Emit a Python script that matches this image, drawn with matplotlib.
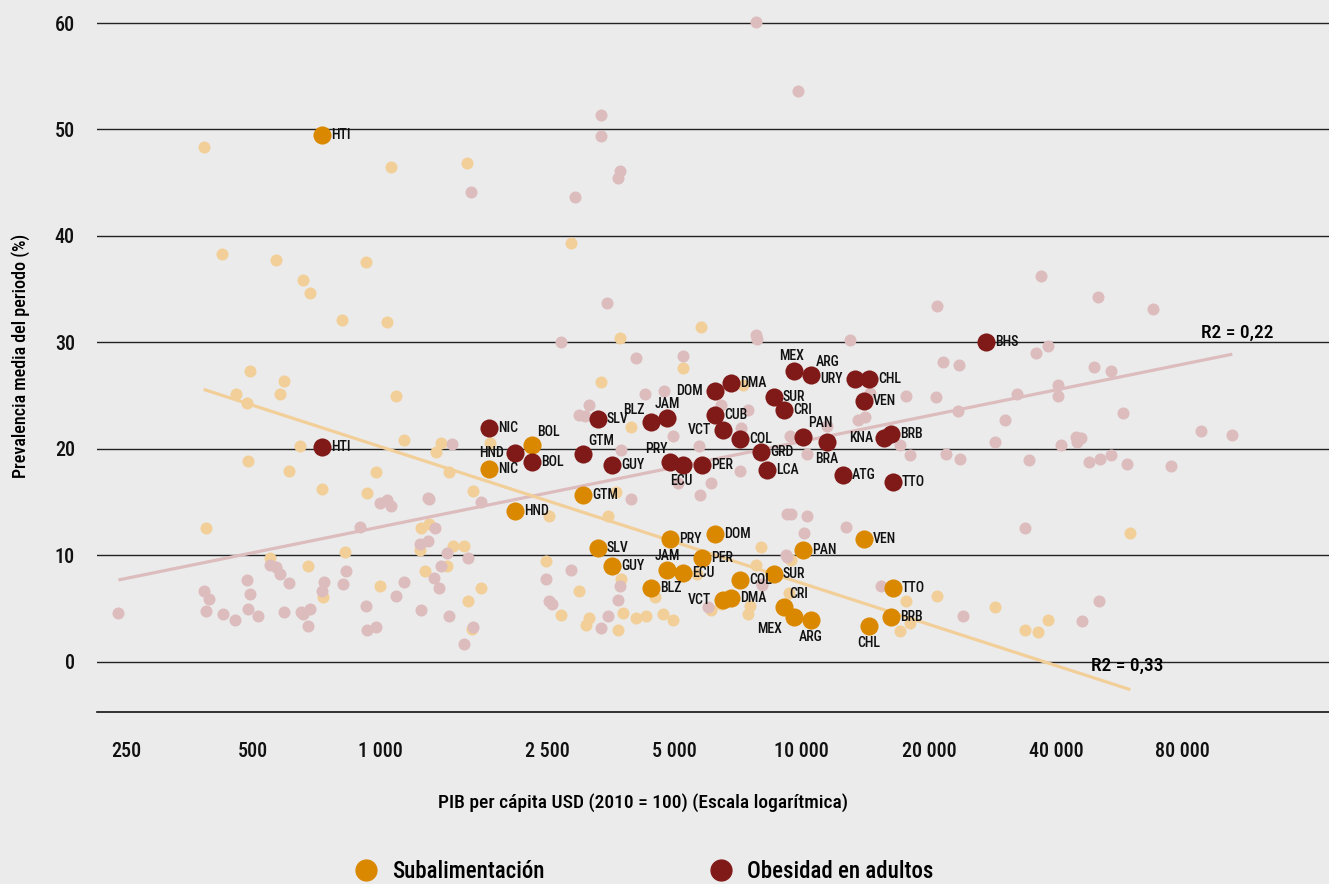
import numpy as np
import matplotlib
matplotlib.use('Agg')
import matplotlib.pyplot as plt
from matplotlib.lines import Line2D
from matplotlib.ticker import NullLocator

# fuente estrecha si existe; si no, Roboto
plt.rcParams['font.family'] = ['DejaVu Sans Condensed', 'Roboto Condensed', 'Liberation Sans Narrow',
                               'Roboto', 'DejaVu Sans']

# --- Datos: todos los países (fondo) ---
obes_all_gdp = [7785, 9790, 3341, 3341, 3705, 3662, 1643, 2898, 3452, 2686, 7785, 7830, 4045, 5227,
                36820, 50350, 68070, 20860, 13000, 38300, 35830, 21640, 23570, 49170, 53960, 17630,
                20810, 32350, 40460, 40460, 23450, 30350, 57600, 88330, 104750, 44640, 45800, 44900,
                28700, 41200, 17080, 13610, 14130, 14530, 18070, 22000, 23650, 34600, 47850, 51000,
                53960, 58970, 75100, 7465, 6420, 7180, 7135, 6090, 5750, 5095, 9385, 10267, 11490,
                4255, 4705, 3135, 2958, 3060, 1484, 4942, 5713, 3733, 1307, 1733, 3929, 1000, 1039,
                1060, 1299, 897, 1245, 1352, 1302, 1439, 1617, 1398, 1341, 1380, 1138, 1091, 1253,
                1460, 1664, 1584, 2832, 2474, 2515, 2562, 3341, 3465, 3671, 3710, 9236, 9200, 8058,
                6000, 9408, 10267, 10130, 12700, 33800, 9152, 8032, 15400, 24140, 50700, 46050, 240,
                382, 393, 387, 424, 454, 483, 491, 488, 513, 548, 568, 579, 610, 592, 649, 658, 681,
                675, 735, 729, 816, 829, 927, 933, 977]
obes_all_pct = [60.1, 53.6, 51.4, 49.4, 46.1, 45.4, 44.1, 43.7, 33.7, 30.0, 30.7, 30.3, 28.5, 28.7,
                36.2, 34.3, 33.1, 33.4, 30.2, 29.7, 29.0, 28.2, 27.9, 27.7, 27.3, 25.0,
                24.9, 25.2, 26.0, 25.0, 23.6, 22.7, 23.4, 21.7, 21.3, 21.1, 21.0, 20.7,
                20.7, 20.4, 20.4, 22.7, 23.0, 25.3, 19.4, 19.5, 19.1, 19.0, 18.8, 19.1,
                19.4, 18.6, 18.4, 23.7, 24.1, 22.0, 17.9, 16.8, 15.7, 16.8, 21.2, 19.5, 22.2,
                25.2, 25.4, 24.1, 23.2, 23.1, 20.5, 21.2, 20.3, 19.9, 15.3, 15.0, 15.3, 14.9, 15.2,
                14.6, 15.4, 12.7, 11.1, 12.6, 11.4, 10.2, 9.8, 9.0, 7.9, 6.9, 7.5, 6.2, 4.9,
                4.3, 3.3, 1.7, 8.6, 7.8, 5.7, 5.4, 3.2, 4.3, 5.8, 7.1, 13.9, 9.9, 7.3,
                5.2, 13.9, 13.7, 12.1, 12.7, 12.6, 10.0, 7.2, 7.1, 4.3, 5.7, 3.8, 4.6,
                6.7, 5.9, 4.8, 4.5, 3.9, 7.7, 6.4, 5.0, 4.3, 9.1, 8.9, 8.3, 7.4, 4.7, 4.7, 4.5, 5.0,
                3.4, 7.5, 6.7, 7.3, 8.5, 5.3, 3.0, 3.3]

sub_all_gdp = [382, 1060, 1608, 423, 568, 927, 656, 681, 814, 1037, 2836, 3705, 5767, 491, 592, 455,
               580, 483, 1091, 3335, 5227, 3929, 1138, 647, 487, 610, 977, 727, 933, 1395, 1357,
               1823, 1460, 1664, 3620, 2515, 3465, 387, 1251, 1307, 1245, 548, 827, 674, 1281, 1000,
               734, 1487, 1584, 1444, 1733, 1614, 1649, 2474, 2686, 2958, 3129, 3073, 3665, 3766,
               3733, 4045, 4264, 4694, 4942, 4478, 5634, 8014, 7800, 7532, 7465, 6431, 6080, 7250,
               9408, 9320, 17630, 20860, 28700, 17080, 18060, 33800, 36350, 60050, 38300]
sub_all_pct = [48.4, 46.5, 46.9, 38.3, 37.7, 37.6, 35.9, 34.6, 32.1, 31.9, 39.3, 30.4, 31.5, 27.3, 26.4, 25.2,
               25.2, 24.3, 25.0, 26.3, 27.6, 22.1, 20.8, 20.3, 18.9, 17.9, 17.8, 16.2, 15.9, 20.6, 19.7,
               20.6, 17.8, 16.1, 16.0, 13.7, 13.7, 12.6, 12.6, 13.0, 10.5, 9.8, 10.3, 9.0, 8.5, 7.1,
               6.1, 10.9, 10.9, 9.0, 6.9, 5.7, 3.1, 9.5, 4.4, 6.7, 4.1, 3.5, 3.0, 4.6,
               7.8, 4.1, 4.3, 4.5, 3.9, 6.1, 8.3, 10.8, 9.1, 5.3, 4.5, 5.4, 4.9, 26.0,
               9.6, 6.5, 5.7, 6.2, 5.2, 2.9, 3.7, 3.0, 2.8, 12.1, 3.9]

# --- América Latina y el Caribe: obesidad en adultos ---
obes_codes = ['HTI', 'NIC', 'HND', 'BOL', 'GTM', 'SLV', 'GUY', 'BLZ', 'JAM', 'PRY', 'ECU', 'PER',
              'DOM', 'CUB', 'VCT', 'DMA', 'COL', 'GRD', 'LCA', 'SUR', 'MEX', 'CRI', 'PAN', 'ARG',
              'BRA', 'URY', 'CHL', 'VEN', 'KNA', 'BRB', 'ATG', 'TTO', 'BHS']
obes_gdp = [728, 1812, 2090, 2293, 3028, 3287, 3547, 4389, 4790, 4868, 5227, 5797,
            6225, 6225, 6503, 6793, 7135, 8000, 8266, 8587, 9579, 9070, 10063, 10515,
            11470, 13360, 14420, 14035, 15657, 16270, 12517, 16450, 27320]
obes_pct = [20.2, 22.0, 19.6, 18.8, 19.5, 22.8, 18.5, 22.5, 22.9, 18.8, 18.5, 18.5,
            25.4, 23.2, 21.8, 26.2, 20.9, 19.7, 18.0, 24.9, 27.3, 23.7, 21.1, 26.9,
            20.7, 26.6, 26.6, 24.5, 21.0, 21.4, 17.6, 16.9, 30.0]

# --- América Latina y el Caribe: subalimentación ---
sub_codes = ['HTI', 'BOL', 'NIC', 'HND', 'GTM', 'SLV', 'GUY', 'PRY', 'JAM', 'ECU', 'BLZ', 'PER',
             'DOM', 'COL', 'VCT', 'DMA', 'SUR', 'CRI', 'MEX', 'ARG', 'PAN', 'VEN', 'CHL', 'TTO', 'BRB']
sub_gdp = [728, 2293, 1812, 2090, 3028, 3287, 3547, 4868, 4790, 5227, 4389, 5797,
           6225, 7135, 6503, 6793, 8587, 9070, 9579, 10515, 10063, 14035, 14420, 16450, 16270]
sub_pct = [49.5, 20.4, 18.1, 14.2, 15.7, 10.7, 9.0, 11.5, 8.6, 8.4, 6.9, 9.8,
           12.0, 7.7, 5.8, 6.0, 8.3, 5.2, 4.2, 3.9, 10.5, 11.5, 3.4, 6.9, 4.2]

# --- Líneas de tendencia (extremos) ---
obes_trend_gdp = [240, 104750]
obes_trend_pct = [7.7, 28.9]
sub_trend_gdp = [382, 60050]
sub_trend_pct = [25.6, -2.6]

xticks = [250, 500, 1000, 2500, 5000, 10000, 20000, 40000, 80000]
xtick_labels = ['250', '500', '1 000', '2 500', '5 000', '10 000', '20 000', '40 000', '80 000']

# posición de etiquetas (px: dx, dy, alineación); por defecto a la derecha
obes_lbl = {'HND': (-11, 0, 'right'), 'GTM': (5, 13, 'left'), 'BLZ': (-6, 12, 'right'),
            'JAM': (0, 14, 'center'), 'PRY': (-2, 13, 'right'), 'ECU': (-2, -16, 'center'),
            'DOM': (-12, 0, 'right'), 'VCT': (-12, 0, 'right'), 'MEX': (-2, 15, 'center'),
            'ARG': (5, 13, 'left'), 'URY': (-12, 0, 'right'), 'PAN': (5, 14, 'left'),
            'BRA': (0, -17, 'center'), 'KNA': (-11, 0, 'right')}
sub_lbl = {'BOL': (5, 13, 'left'), 'JAM': (0, 14, 'center'), 'VCT': (-12, 0, 'right'),
           'CRI': (5, 13, 'left'), 'MEX': (-12, -12, 'right'), 'ARG': (0, -17, 'center'),
           'CHL': (0, -17, 'center')}

BG = '#EBEBEB'
ORANGE = '#D98800'
DARKRED = '#801a18'
LIGHTYEL = '#F2CF98'
LIGHTPINK = '#DDBCBE'
TXT = '#111111'

fig = plt.figure(figsize=(13.29, 8.84), dpi=100, facecolor=BG)
ax = fig.add_axes([97 / 1329, 1 - 711.7 / 884, 1 - 97 / 1329, 711.7 / 884])
ax.set_facecolor(BG)
ax.set_xscale('log')
ax.set_xlim(213.5, 177600)
ax.set_ylim(-4.67, 62.16)

ax.set_yticks(range(0, 61, 10))
ax.grid(axis='y', color='#222222', lw=1.0, zorder=0)
ax.set_axisbelow(True)
ax.set_xticks(xticks)
ax.set_xticklabels(xtick_labels)
ax.xaxis.set_minor_locator(NullLocator())
ax.tick_params(axis='both', length=0, labelsize=14.5, colors=TXT)
ax.tick_params(axis='x', pad=22)
ax.tick_params(axis='y', pad=16)
for lab in ax.get_xticklabels() + ax.get_yticklabels():
    lab.set_fontweight('medium')
for s in ['top', 'right', 'left']:
    ax.spines[s].set_visible(False)
ax.spines['bottom'].set_color(TXT)
ax.spines['bottom'].set_linewidth(1.2)

# puntos de fondo
ax.scatter(sub_all_gdp, sub_all_pct, s=75, color=LIGHTYEL, lw=0, zorder=2)
ax.scatter(obes_all_gdp, obes_all_pct, s=75, color=LIGHTPINK, lw=0, zorder=2)

# tendencias
ax.plot(obes_trend_gdp, obes_trend_pct, color=LIGHTPINK, lw=2.3, zorder=3, solid_capstyle='butt')
ax.plot(sub_trend_gdp, sub_trend_pct, color=LIGHTYEL, lw=2.3, zorder=3, solid_capstyle='butt')
ax.annotate('R2 = 0,22', (obes_trend_gdp[1], obes_trend_pct[1]), xytext=(41 * 0.72, 21 * 0.72),
            textcoords='offset points', ha='right', va='center', fontsize=14, fontweight='medium')
ax.annotate('R2 = 0,33', (sub_trend_gdp[1], sub_trend_pct[1]), xytext=(33 * 0.72, 24 * 0.72),
            textcoords='offset points', ha='right', va='center', fontsize=14, fontweight='medium')

# puntos destacados
ax.scatter(sub_gdp, sub_pct, s=170, color=ORANGE, lw=0, zorder=4)
ax.scatter(obes_gdp, obes_pct, s=170, color=DARKRED, lw=0, zorder=4)


def put_labels(codes, xs, ys, special):
    for c, x, y in zip(codes, xs, ys):
        dx, dy, ha = special.get(c, (9, 0, 'left'))
        ax.annotate(c, (x, y), xytext=(dx * 0.72, dy * 0.72), textcoords='offset points',
                    ha=ha, va='center', fontsize=10, fontweight='medium', color=TXT, zorder=5)


put_labels(obes_codes, obes_gdp, obes_pct, obes_lbl)
put_labels(sub_codes, sub_gdp, sub_pct, sub_lbl)

ax.set_xlabel('PIB per cápita USD (2010 = 100) (Escala logarítmica)', fontsize=14, fontweight='medium')
ax.xaxis.set_label_coords((643 - 97) / 1232, (711.7 - 793) / 711.7)
ax.set_ylabel('Prevalencia media del periodo (%)', fontsize=13, fontweight='medium', labelpad=18)

# leyenda: dos entradas colocadas por separado
h_sub = Line2D([], [], marker='o', ls='', color=ORANGE, markersize=15)
h_obes = Line2D([], [], marker='o', ls='', color=DARKRED, markersize=15)
leg1 = fig.legend([h_sub], ['Subalimentación'], loc='center left', bbox_to_anchor=(355 / 1329, 0.014),
                  frameon=False, fontsize=16.5, handlelength=1.0, handletextpad=0.6,
                  borderpad=0, borderaxespad=0)
leg2 = fig.legend([h_obes], ['Obesidad en adultos'], loc='center left', bbox_to_anchor=(710 / 1329, 0.014),
                  frameon=False, fontsize=16.5, handlelength=1.0, handletextpad=0.6,
                  borderpad=0, borderaxespad=0)
for leg in (leg1, leg2):
    for t in leg.get_texts():
        t.set_fontweight('medium')

fig.savefig('out.png', dpi=100, facecolor=BG)
